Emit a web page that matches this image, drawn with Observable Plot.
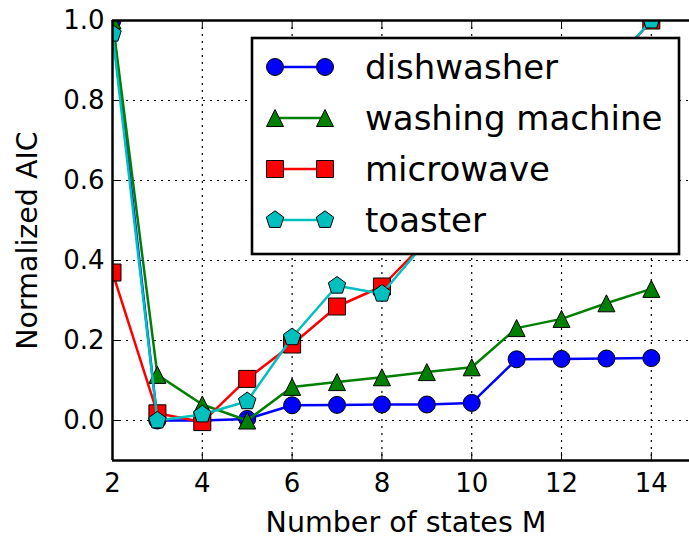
<!DOCTYPE html>
<html><head><meta charset="utf-8">
<script src="https://cdn.jsdelivr.net/npm/d3@7"></script>
<script src="https://cdn.jsdelivr.net/npm/@observablehq/plot@0.6"></script>
<style>
body{margin:0;background:#fff;font-family:"DejaVu Sans",sans-serif}
#chart{position:relative;width:689px;height:539px}
</style>
</head><body><div id="chart"></div>
<script>
// ---- data ----
const states = [2, 3, 4, 5, 6, 7, 8, 9, 10, 11, 12, 13, 14];
const dishwasher = [1.0, 0.0, 0.0, 0.004, 0.038, 0.039, 0.04, 0.04, 0.044, 0.153, 0.154, 0.155, 0.156];
const washingMachine = [1.0, 0.114, 0.04, 0.0, 0.084, 0.096, 0.108, 0.121, 0.133, 0.231, 0.254, 0.293, 0.329];
const microwave = [0.37, 0.018, -0.004, 0.104, 0.19, 0.285, 0.335, 0.45, 0.55, 0.66, 0.76, 0.87, 1.0];
const toaster = [0.967, 0.0, 0.015, 0.048, 0.208, 0.337, 0.317, 0.45, 0.56, 0.67, 0.77, 0.875, 1.0];
const seriesNames = ["dishwasher", "washing machine", "microwave", "toaster"];
const seriesColors = ["#0000ff", "#008000", "#ff0000", "#00bfbf"];
const xTicks = [2, 4, 6, 8, 10, 12, 14];
const yTicks = [0.0, 0.2, 0.4, 0.6, 0.8, 1.0];
const xLabel = "Number of states M";
const yLabel = "Normalized AIC";

// ---- marker shapes (matplotlib-like) ----
const R = s => Math.sqrt(s / Math.PI);
const circleSym = {draw(c, s){ const r = R(s); c.moveTo(r, 0); c.arc(0, 0, r, 0, 2 * Math.PI); c.closePath(); }};
const triangleSym = {draw(c, s){ const r = R(s); c.moveTo(0, -r); c.lineTo(r, r); c.lineTo(-r, r); c.closePath(); }};
const squareSym = {draw(c, s){ const r = R(s); c.rect(-r, -r, 2 * r, 2 * r); }};
const pentagonSym = {draw(c, s){ const r = R(s) * 1.08;
  for (let k = 0; k < 5; k++) { const a = -Math.PI / 2 + k * 2 * Math.PI / 5;
    const px = r * Math.cos(a), py = r * Math.sin(a); k ? c.lineTo(px, py) : c.moveTo(px, py); }
  c.closePath(); }};
const seriesValues = [dishwasher, washingMachine, microwave, toaster];
const seriesSymbols = [circleSym, triangleSym, squareSym, pentagonSym];
const markerR = 8.5;

const seriesData = seriesNames.map((name, i) => states.map((m, j) => ({name, M: m, v: seriesValues[i][j]})));

const dataMarks = seriesData.flatMap((d, i) => [
  Plot.line(d, {x: "M", y: "v", stroke: seriesColors[i], strokeWidth: 2.5, clip: true}),
  Plot.dot(d, {x: "M", y: "v", fill: seriesColors[i], stroke: "black", strokeWidth: 1,
    r: markerR, symbol: seriesSymbols[i], clip: true})
]);

const plot = Plot.plot({
  width: 689, height: 539,
  marginLeft: 112, marginRight: 0, marginTop: 20, marginBottom: 79,
  style: {fontFamily: "DejaVu Sans", fontSize: "26px", color: "black", background: "white"},
  x: {domain: [2, 14.85]},
  y: {domain: [-0.1, 1.0]},
  marks: [
    Plot.gridX(xTicks.slice(1), {stroke: "black", strokeOpacity: 1, strokeWidth: 1.2, strokeDasharray: "2,5"}),
    Plot.gridY(yTicks, {stroke: "black", strokeOpacity: 1, strokeWidth: 1.2, strokeDasharray: "2,5"}),
    Plot.axisX(xTicks, {anchor: "bottom", tickSize: -8, tickPadding: 21, label: null, tickFormat: d => String(d)}),
    Plot.axisX(xTicks, {anchor: "top", tickSize: -8, label: null, tickFormat: () => ""}),
    Plot.axisY(yTicks, {anchor: "left", tickSize: -8, tickPadding: 16, label: null, tickFormat: d3.format(".1f")}),
    ...dataMarks,
    Plot.ruleX([2], {stroke: "black", strokeWidth: 2.5}),
    Plot.ruleY([1.0, -0.1], {stroke: "black", strokeWidth: 2.5}),
    Plot.text([xLabel], {frameAnchor: "bottom", dy: 71, dx: 5, fontSize: 28.5, fill: "black", textAnchor: "middle"}),
    Plot.text([yLabel], {frameAnchor: "left", dx: -85, rotate: -90, fontSize: 28.5, fill: "black", textAnchor: "middle"})
  ]
});
document.getElementById("chart").appendChild(plot);

// ---- legend (drawn over the plot, opaque white box) ----
const svg = d3.select(plot);
const lg = svg.append("g").attr("class", "legend").attr("text-anchor", "start");
lg.append("rect").attr("x", 252).attr("y", 38).attr("width", 427).attr("height", 216)
  .attr("fill", "white").attr("stroke", "black").attr("stroke-width", 2.6);
seriesNames.forEach((name, i) => {
  const cy = 67 + i * 51;
  const g = lg.append("g");
  g.append("line").attr("x1", 275).attr("x2", 325).attr("y1", cy).attr("y2", cy)
    .attr("stroke", seriesColors[i]).attr("stroke-width", 2.5);
  [275, 325].forEach(cx => {
    g.append("path").attr("transform", `translate(${cx},${cy})`)
      .attr("d", d3.symbol(seriesSymbols[i], Math.PI * markerR * markerR)())
      .attr("fill", seriesColors[i]).attr("stroke", "black").attr("stroke-width", 1);
  });
  g.append("text").attr("x", 365).attr("y", cy).attr("dy", "0.36em").attr("text-anchor", "start")
    .attr("font-family", "DejaVu Sans").attr("font-size", 34).attr("fill", "black").text(name);
});
</script>
</body></html>
